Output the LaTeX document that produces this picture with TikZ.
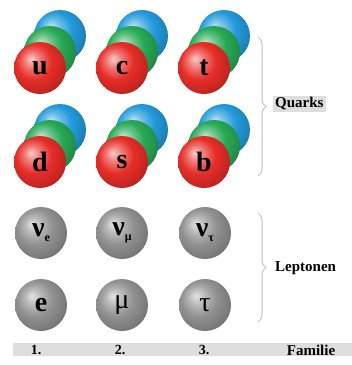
\documentclass[tikz,border=0pt]{standalone}
\usepackage{fontspec}
\setmainfont{Liberation Serif}
\usetikzlibrary{decorations.pathreplacing}

\definecolor{qred}{RGB}{232,45,40}
\definecolor{qgreen}{RGB}{40,170,85}
\definecolor{qblue}{RGB}{35,155,220}
\definecolor{lgrey}{RGB}{145,145,145}
\definecolor{bargrey}{RGB}{222,222,222}
\definecolor{bracegrey}{RGB}{195,195,195}

% soft sphere shading, lit from the upper left
\newcommand\defball[2]{%
  \pgfdeclareradialshading{#1}{\pgfpoint{-9bp}{9bp}}{%
    color(0bp)=(#2!25!white); color(8bp)=(#2!65!white);
    color(17bp)=(#2); color(27bp)=(#2!85!black);
    color(36bp)=(#2!65!black); color(50bp)=(#2!50!black)}}
\defball{redball}{qred}
\defball{greenball}{qgreen}
\defball{blueball}{qblue}
\defball{greyball}{lgrey}

\newcommand\sub[1]{\raisebox{-5pt}{\fontsize{12}{12}\selectfont #1}}

\tikzset{
  ball/.style={circle,minimum size=52pt,inner sep=0pt},
  rball/.style={ball,shading=redball},
  gball/.style={ball,shading=greenball},
  bball/.style={ball,shading=blueball},
  lball/.style={ball,shading=greyball},
  flavour/.style={font=\fontsize{28}{28}\selectfont\bfseries},
  lepname/.style={font=\fontsize{28}{28}\selectfont},
  group/.style={font=\fontsize{15}{15}\selectfont\bfseries,inner sep=2pt},
  famnum/.style={font=\fontsize{14}{14}\selectfont\bfseries},
  curly/.style={decorate,decoration={brace,amplitude=8pt},draw=bracegrey,line width=1pt},
}

\begin{document}
\begin{tikzpicture}[x=1pt,y=-1pt]
\useasboundingbox (0,0) rectangle (352,365);
\fill[white] (0,0) rectangle (352,365);

% quarks: blue and green sit behind the red one
\node[bball] (ub) at (60,36) {};
\node[gball] (ug) at (50,52) {};
\node[rball,flavour] (u) at (40,68) {u};
\node[bball] (cb) at (142,36) {};
\node[gball] (cg) at (132,52) {};
\node[rball,flavour] (c) at (122,68) {c};
\node[bball] (tb) at (224,36) {};
\node[gball] (tg) at (214,52) {};
\node[rball,flavour] (t) at (204,68) {t};

\node[bball] (db) at (60,130) {};
\node[gball] (dg) at (50,146) {};
\node[rball,flavour] (d) at (40,162) {d};
\node[bball] (sb) at (142,130) {};
\node[gball] (sg) at (132,146) {};
\node[rball,flavour] (s) at (122,162) {s};
\node[bball] (bb) at (224,130) {};
\node[gball] (bg) at (214,146) {};
\node[rball,flavour] (b) at (204,162) {b};

% leptons
\node[lball,flavour] (nue) at (41,233) {ν\sub{e}};
\node[lball,flavour] (numu) at (122,233) {ν\sub{μ}};
\node[lball,flavour] (nutau) at (205,233) {ν\sub{τ}};
\node[lball,flavour] (e) at (41,305) {e};
\node[lball,lepname] (mu) at (122,305) {μ};
\node[lball,lepname] (tau) at (205,305) {τ};

% braces with group names
\coordinate (qtop) at (258,37);
\coordinate (qbot) at (258,176);
\coordinate (ltop) at (258,213);
\coordinate (lbot) at (258,322);
\draw[curly] (qtop) -- (qbot);
\draw[curly] (ltop) -- (lbot);
\node[group,fill=bargrey,anchor=west] (quarks) at (273,104) {Quarks};
\node[group,anchor=west] (leptonen) at (273,268) {Leptonen};

% family bar
\fill[bargrey] (13,343) rectangle (352,356);
\node[famnum] (f1) at (36,350) {1.};
\node[famnum] (f2) at (120,350) {2.};
\node[famnum] (f3) at (204,350) {3.};
\node[group] (familie) at (311,350) {Familie};
\end{tikzpicture}
\end{document}
